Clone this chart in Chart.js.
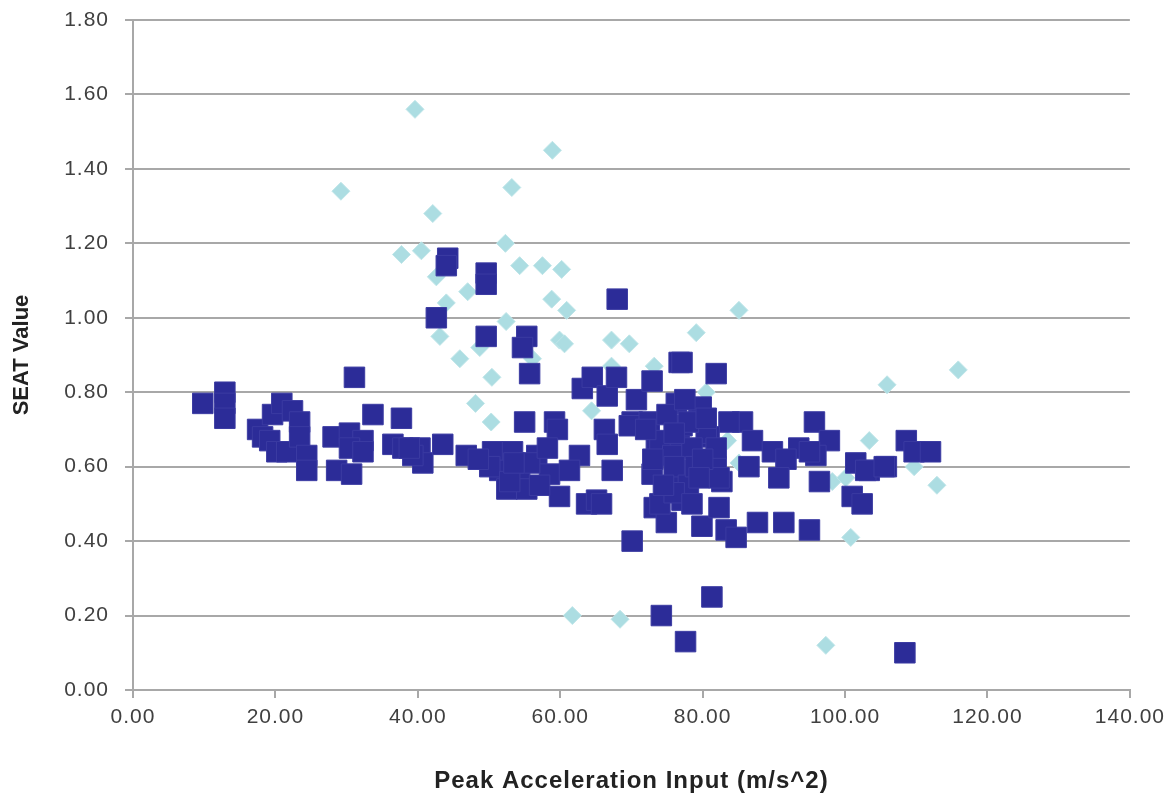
<!DOCTYPE html>
<html>
<head>
<meta charset="utf-8">
<script src="https://cdn.jsdelivr.net/npm/chart.js@4.4.1/dist/chart.umd.min.js"></script>
<style>
  html, body { margin: 0; padding: 0; background: #ffffff; }
  #wrap { width: 1169px; height: 800px; position: relative; }
</style>
</head>
<body>
<div id="wrap"><canvas id="chart"></canvas></div>
<script>
// Measured SEAT values (navy squares) against peak acceleration input
const seatSquares = [
  [9.8,0.77],[12.9,0.80],[12.9,0.77],[12.9,0.73],
  [17.5,0.70],[18.2,0.68],[19.6,0.74],[20.9,0.77],[22.4,0.75],[19.2,0.67],[20.2,0.64],[21.6,0.64],
  [23.4,0.72],[23.4,0.68],[24.4,0.63],[24.4,0.59],
  [31.1,0.84],[33.7,0.74],[37.7,0.73],[28.1,0.68],[30.4,0.69],[32.3,0.67],[30.4,0.65],[32.3,0.64],
  [28.6,0.59],[30.7,0.58],[36.5,0.66],[37.9,0.65],[40.3,0.65],[40.7,0.61],[39.3,0.63],
  [43.5,0.66],[38.8,0.65],
  [44.2,1.16],[44.0,1.14],[49.6,1.12],[49.6,1.09],[42.6,1.00],[49.6,0.95],[55.3,0.95],[54.7,0.92],
  [68.0,1.05],[55.7,0.85],
  [55.0,0.72],[59.2,0.72],[59.6,0.70],[46.8,0.63],[50.5,0.64],[53.3,0.64],[51.5,0.59],[54.3,0.59],
  [52.5,0.54],[55.3,0.54],[56.7,0.63],[58.5,0.58],[59.9,0.52],[62.7,0.63],[63.7,0.50],[65.1,0.51],
  [61.3,0.59],[67.3,0.59],[50.1,0.60],[52.9,0.56],[57.1,0.55],[55.7,0.61],[58.2,0.65],[48.5,0.62],[53.5,0.61],
  [63.1,0.81],[64.5,0.84],[66.6,0.79],[67.9,0.84],[66.2,0.70],[66.6,0.66],[70.1,0.72],[70.7,0.78],
  [72.9,0.83],[76.7,0.88],[77.1,0.88],[81.9,0.85],
  [76.3,0.77],[69.7,0.71],[79.5,0.75],[85.6,0.72],[83.7,0.72],[95.7,0.72],
  [73.5,0.66],[76.7,0.67],[80.9,0.68],[87.0,0.67],[89.8,0.64],[93.5,0.65],[97.8,0.67],[91.7,0.62],
  [95.9,0.63],[101.5,0.61],[105.8,0.60],[103.4,0.59],
  [72.9,0.58],[77.1,0.59],[81.9,0.60],[86.5,0.60],[82.7,0.56],[90.7,0.57],[96.4,0.56],
  [65.8,0.50],[73.2,0.49],[74.9,0.45],[77.1,0.51],[79.9,0.44],[82.3,0.49],[83.3,0.43],[84.7,0.41],
  [87.7,0.45],[91.4,0.45],[95.0,0.43],[70.1,0.40],[101.0,0.52],[102.4,0.50],
  [95.0,0.64],[102.9,0.59],[105.5,0.60],[108.6,0.67],[109.7,0.64],[112.0,0.64],
  [74.2,0.20],[77.6,0.13],[81.3,0.25],[108.4,0.10],
  [79.8,0.76],[72.5,0.72],[74.0,0.67],[77.1,0.71],[80.5,0.69],[75.8,0.63],[78.5,0.65],[81.9,0.65],
  [76.7,0.56],[82.3,0.57],[74.0,0.50],[76.0,0.60],[78.0,0.55],[79.0,0.60],[75.0,0.74],[78.0,0.72],
  [73.0,0.62],[80.0,0.62],[76.0,0.53],[78.5,0.50],[74.5,0.55],[79.5,0.57],[72.0,0.70],[80.5,0.73],
  [77.5,0.78],[76.0,0.69]
];

// Second set of SEAT values (light diamonds)
const seatDiamonds = [
  [39.6,1.56],[58.9,1.45],[53.2,1.35],[29.2,1.34],[42.1,1.28],[37.7,1.17],[40.5,1.18],[52.3,1.20],
  [54.3,1.14],[57.5,1.14],[60.2,1.13],[42.6,1.11],[44.0,1.04],[47.0,1.07],[58.8,1.05],[60.9,1.02],
  [85.1,1.02],[52.4,0.99],[43.1,0.95],[45.9,0.89],[48.7,0.92],[59.9,0.94],[60.6,0.93],[67.2,0.94],
  [69.7,0.93],[79.1,0.96],[56.1,0.89],[50.4,0.84],[67.2,0.87],[73.2,0.87],[48.1,0.77],[50.3,0.72],
  [64.4,0.75],[105.9,0.82],[80.5,0.80],[83.5,0.67],[103.4,0.67],[85.1,0.61],[98.2,0.56],[100.8,0.41],
  [115.9,0.86],[109.7,0.60],[112.9,0.55],[100.1,0.57],[61.7,0.20],[68.4,0.19],[97.3,0.12]
];

const xTicks = [0, 20, 40, 60, 80, 100, 120, 140];
const yTicks = [0, 0.2, 0.4, 0.6, 0.8, 1.0, 1.2, 1.4, 1.6, 1.8];

const toPoints = arr => arr.map(([x, y]) => ({ x, y }));

// widen horizontal text a little
const textSpacing = {
  id: 'textSpacing',
  beforeDraw(chart) { chart.ctx.letterSpacing = '1px'; },
  afterDraw(chart) { chart.ctx.letterSpacing = '0px'; }
};

const FONT = 'Liberation Sans, Arial, sans-serif';

const chart = new Chart(document.getElementById('chart'), {
  type: 'scatter',
  data: {
    datasets: [
      {
        label: 'Squares',
        data: toPoints(seatSquares),
        pointStyle: 'rect',
        pointRadius: 14.5,
        pointHoverRadius: 14.5,
        backgroundColor: '#2c2c98',
        borderColor: '#3b3ba2',
        borderWidth: 1
      },
      {
        label: 'Diamonds',
        data: toPoints(seatDiamonds),
        pointStyle: 'rectRot',
        pointRadius: 9,
        pointHoverRadius: 9,
        backgroundColor: '#acdde2',
        borderColor: '#bfe5e8',
        borderWidth: 1
      }
    ]
  },
  options: {
    responsive: true,
    maintainAspectRatio: false,
    animation: false,
    layout: { padding: { left: 0, top: 20, right: 38, bottom: 0 } },
    plugins: {
      legend: { display: false },
      tooltip: { enabled: false }
    },
    scales: {
      x: {
        type: 'linear',
        min: 0,
        max: 140,
        afterBuildTicks: s => { s.ticks = xTicks.map(v => ({ value: v })); },
        afterFit: s => { s.height = 110; },
        border: { display: true, color: '#a8a8a8', width: 2 },
        grid: { drawOnChartArea: false, drawTicks: true, tickLength: 8, color: '#a8a8a8', lineWidth: 2 },
        ticks: {
          padding: 7,
          color: '#404040',
          font: { family: FONT, size: 21 },
          maxRotation: 0,
          callback: v => Number(v).toFixed(2)
        },
        title: {
          display: true,
          text: 'Peak Acceleration Input (m/s^2)',
          color: '#222222',
          font: { family: FONT, size: 24, weight: 'bold' },
          padding: { top: 0, bottom: 4 }
        }
      },
      y: {
        type: 'linear',
        min: 0,
        max: 1.8,
        afterBuildTicks: s => { s.ticks = yTicks.map(v => ({ value: v })); },
        afterFit: s => { s.width = 133; s.paddingTop = 12; s.paddingBottom = 12; },
        border: { display: true, color: '#a8a8a8', width: 2 },
        grid: { drawOnChartArea: true, drawTicks: true, tickLength: 8, color: '#a8a8a8', lineWidth: 2 },
        ticks: {
          padding: 16,
          color: '#404040',
          font: { family: FONT, size: 21 },
          callback: v => Number(v).toFixed(2)
        },
        title: {
          display: true,
          text: 'SEAT Value',
          color: '#222222',
          font: { family: FONT, size: 22, weight: 'bold' },
          padding: { top: 9, bottom: 0 }
        }
      }
    }
  },
  plugins: [textSpacing]
});

// the rotated axis title keeps normal spacing
const yScale = chart.scales.y;
const baseDrawTitle = Object.getPrototypeOf(yScale).drawTitle;
yScale.drawTitle = function () {
  const ctx = this.ctx;
  const prev = ctx.letterSpacing;
  ctx.letterSpacing = '0px';
  baseDrawTitle.call(this);
  ctx.letterSpacing = prev;
};
chart.draw();
</script>
</body>
</html>
